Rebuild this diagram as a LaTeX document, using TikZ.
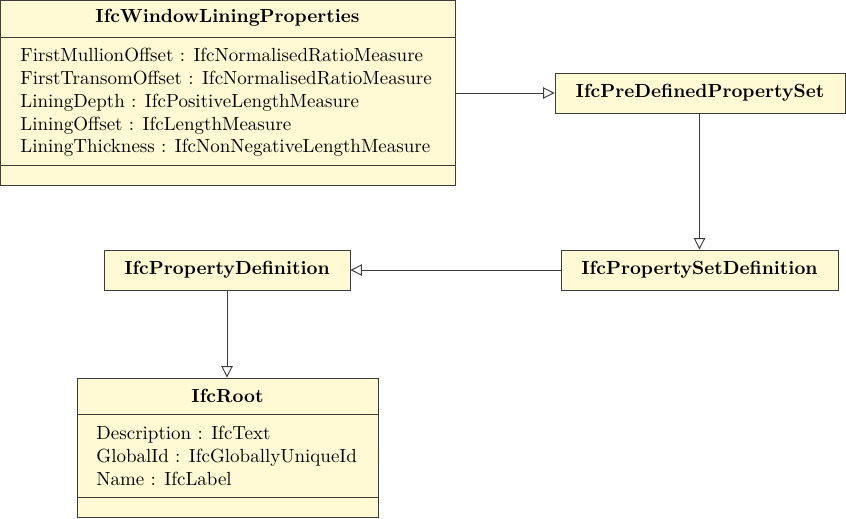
\documentclass[tikz,border=0pt]{standalone}
\usetikzlibrary{fit,arrows.meta}
\definecolor{classfill}{RGB}{255,250,212}
\definecolor{edge}{RGB}{60,60,60}
\tikzset{
  classbox/.style={draw=edge, fill=classfill, line width=0.5pt, inner sep=0pt, rectangle},
  title/.style={font=\bfseries, inner sep=0pt, anchor=center},
  attrs/.style={align=left, inner sep=0pt, anchor=north west},
  divider/.style={draw=edge, line width=0.5pt},
  inherit/.style={draw=edge, line width=0.5pt, -{Triangle[open, length=6pt, width=6pt]}},
}
\begin{document}
\begin{tikzpicture}[x=0.5263pt, y=-0.5263pt]
\useasboundingbox (0,0) rectangle (846,518);
% IfcWindowLiningProperties
\node[classbox, fit={(0.5,0.5) (455,185)}] (wlp) {};
\node[title] (wlpt) at (227.5,18) {IfcWindowLiningProperties};
\draw[divider] (0.5,37) -- (455,37);
\draw[divider] (0.5,165) -- (455,165);
\node[attrs] (wlpa) at (20,48) {FirstMullionOffset : IfcNormalisedRatioMeasure\\FirstTransomOffset : IfcNormalisedRatioMeasure\\LiningDepth : IfcPositiveLengthMeasure\\LiningOffset : IfcLengthMeasure\\LiningThickness : IfcNonNegativeLengthMeasure};
% IfcPreDefinedPropertySet
\node[classbox, fit={(555,73) (845,113)}] (pdps) {};
\node[title] at (pdps.center) {IfcPreDefinedPropertySet};
% IfcPropertySetDefinition
\node[classbox, fit={(561,250) (838,290)}] (psd) {};
\node[title] at (psd.center) {IfcPropertySetDefinition};
% IfcPropertyDefinition
\node[classbox, fit={(104,250) (350,290)}] (pd) {};
\node[title] at (pd.center) {IfcPropertyDefinition};
% IfcRoot
\node[classbox, fit={(77,378) (378,517)}] (root) {};
\node[title] (roott) at (227.5,396) {IfcRoot};
\draw[divider] (77,414) -- (378,414);
\draw[divider] (77,497) -- (378,497);
\node[attrs] (roota) at (96,426) {Description : IfcText\\GlobalId : IfcGloballyUniqueId\\Name : IfcLabel};
% connectors
\draw[inherit] (wlp.east |- pdps.west) -- (pdps.west);
\draw[inherit] (psd.north |- pdps.south) -- (psd.north);
\draw[inherit] (psd.west) -- (pd.east);
\draw[inherit] (pd.south) -- (pd.south |- root.north);
\end{tikzpicture}
\end{document}
